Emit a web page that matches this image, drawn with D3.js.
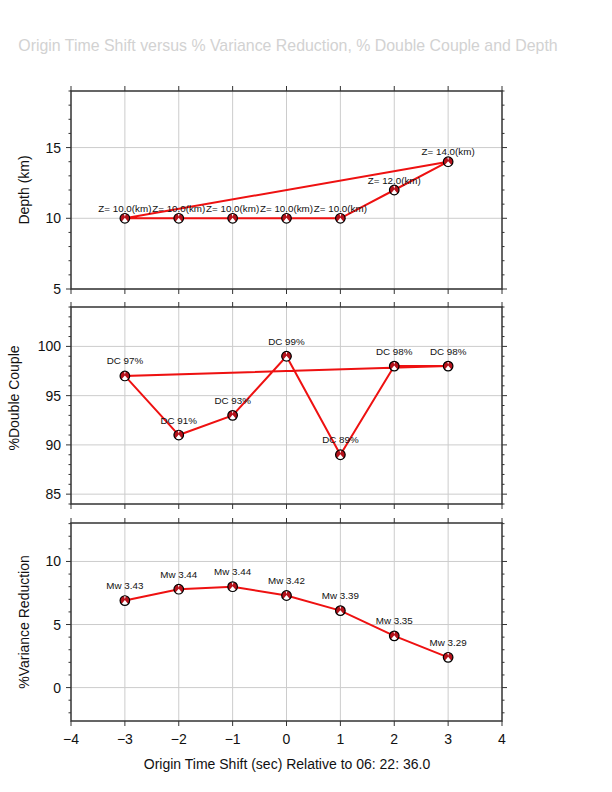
<!DOCTYPE html>
<html>
  <head>
    <meta charset="utf-8" />
    <title>Origin Time Shift</title>
    <script src="https://d3js.org/d3.v7.min.js"></script>
    <style>
      body { margin: 0; background: #fff; }
      text { font-family: "Liberation Sans", Arial, Helvetica, sans-serif; }
    </style>
  </head>
  <body>
    <div id="chart"></div>

    <script>
      // values
      const shifts = [-3, -2, -1, 0, 1, 2, 3];
      const depths = [10, 10, 10, 10, 10, 12, 14];
      const dcPct = [97, 91, 93, 99, 89, 98, 98];
      const varRed = [6.9, 7.8, 8.0, 7.3, 6.1, 4.1, 2.4];
      const mw = [3.43, 3.44, 3.44, 3.42, 3.39, 3.35, 3.29];
      const xTicks = [-4, -3, -2, -1, 0, 1, 2, 3, 4];

      const titleText = "Origin Time Shift versus % Variance Reduction, % Double Couple and Depth";
      const xTitle = "Origin Time Shift (sec) Relative to 06: 22: 36.0";

      const svg = d3.select("#chart").append("svg").attr("width", 612).attr("height", 792);

      const x = d3.scaleLinear().domain([-4, 4]).range([71, 502]);

      // panel setup (top to bottom)
      const panels = [
        { name: "Depth (km)", vals: depths, top: 91, bottom: 289, domain: [5, 19],
          labels: depths.map(d => "Z= " + d.toFixed(1) + "(km)"), closed: true, lift: 10, titleX: 24 },
        { name: "%Double Couple", vals: dcPct, top: 307, bottom: 504, domain: [84, 104],
          labels: dcPct.map(d => "DC " + d + "%"), closed: true, lift: 15, titleX: 14, titleY: 398 },
        { name: "%Variance Reduction", vals: varRed, top: 523, bottom: 721, domain: [-2.65, 13.05],
          labels: mw.map(d => "Mw " + d.toFixed(2)), closed: false, lift: 15, titleX: 24, xAxis: true }
      ];

      svg.append("text")
        .attr("x", 288).attr("y", 51)
        .attr("text-anchor", "middle")
        .style("font-size", "15.9px")
        .style("fill", "#d2d2d2")
        .text(titleText);

      panels.forEach(p => {
        const y = d3.scaleLinear().domain(p.domain).range([p.bottom, p.top]);
        const g = svg.append("g");
        const major = d3.range(Math.ceil(p.domain[0] / 5) * 5, p.domain[1] + 0.001, 5);
        const minor = d3.range(Math.ceil(p.domain[0]), p.domain[1] + 0.001, 1);

        // grid
        g.selectAll(".gx").data(shifts).enter().append("line")
          .attr("x1", d => x(d)).attr("x2", d => x(d))
          .attr("y1", p.top).attr("y2", p.bottom)
          .style("stroke", "#cccccc").style("stroke-width", 1);
        g.selectAll(".gy").data(major).enter().append("line")
          .attr("x1", x.range()[0]).attr("x2", x.range()[1])
          .attr("y1", d => y(d)).attr("y2", d => y(d))
          .style("stroke", "#cccccc").style("stroke-width", 1);

        // y ticks left and right
        const tk = g.append("g").style("stroke", "#333").style("stroke-width", 1);
        minor.forEach(v => {
          const len = major.includes(v) ? 5 : 2.5;
          tk.append("line").attr("x1", x.range()[0] - len).attr("x2", x.range()[0])
            .attr("y1", y(v)).attr("y2", y(v));
          tk.append("line").attr("x1", x.range()[1]).attr("x2", x.range()[1] + len)
            .attr("y1", y(v)).attr("y2", y(v));
        });
        // x ticks top and bottom
        xTicks.forEach(v => {
          tk.append("line").attr("x1", x(v)).attr("x2", x(v))
            .attr("y1", p.top - 5).attr("y2", p.top);
          tk.append("line").attr("x1", x(v)).attr("x2", x(v))
            .attr("y1", p.bottom).attr("y2", p.bottom + 5);
        });

        // frame
        g.append("rect")
          .attr("x", x.range()[0]).attr("y", p.top)
          .attr("width", x.range()[1] - x.range()[0]).attr("height", p.bottom - p.top)
          .style("fill", "none").style("stroke", "#333").style("stroke-width", 1.5);

        // y tick labels
        g.selectAll(".yl").data(major).enter().append("text")
          .attr("x", 61).attr("y", d => y(d) + 5)
          .attr("text-anchor", "end")
          .style("font-size", "14px").style("fill", "#111")
          .text(d => d3.format("d")(d));

        // axis title
        const ty = p.titleY || (p.top + p.bottom) / 2;
        g.append("text")
          .attr("transform", `translate(${p.titleX + 5},${ty}) rotate(-90)`)
          .attr("text-anchor", "middle")
          .style("font-size", "14px").style("fill", "#111")
          .text(p.name);

        if (p.xAxis) {
          g.selectAll(".xl").data(xTicks).enter().append("text")
            .attr("x", d => x(d)).attr("y", p.bottom + 23)
            .attr("text-anchor", "middle")
            .style("font-size", "14px").style("fill", "#111")
            .text(d => d3.format("d")(d));
          g.append("text")
            .attr("x", 287).attr("y", 769)
            .attr("text-anchor", "middle")
            .style("font-size", "14px").style("fill", "#111")
            .text(xTitle);
        }

        // line through points
        const pts = shifts.map((s, i) => [s, p.vals[i]]);
        const line = d3.line().x(d => x(d[0])).y(d => y(d[1]));
        g.append("path")
          .attr("d", line(pts) + (p.closed ? "Z" : ""))
          .style("fill", "none").style("stroke", "#ee1111").style("stroke-width", 2);

        // beach ball style markers
        const balls = g.selectAll(".ball").data(pts).enter().append("g")
          .attr("transform", d => `translate(${x(d[0])},${y(d[1])})`);
        balls.append("circle").attr("r", 4.8)
          .style("fill", "#b5121b").style("stroke", "none");
        balls.append("path")
          .attr("d", "M0,-0.5 L-3.3,3.4 A4.8,4.8 0 0,0 3.3,3.4 Z M-1,-4.6 L0,-1.5 L1,-4.6 Z")
          .style("fill", "#fff");
        balls.append("circle").attr("r", 4.8)
          .style("fill", "none").style("stroke", "#000").style("stroke-width", 1.2);

        // point labels
        g.selectAll(".pl").data(pts).enter().append("text")
          .attr("x", d => x(d[0])).attr("y", d => y(d[1]) - p.lift + 3.5)
          .attr("text-anchor", "middle")
          .style("font-size", "9.8px").style("fill", "#111")
          .text((d, i) => p.labels[i]);
      });
    </script>
  </body>
</html>
